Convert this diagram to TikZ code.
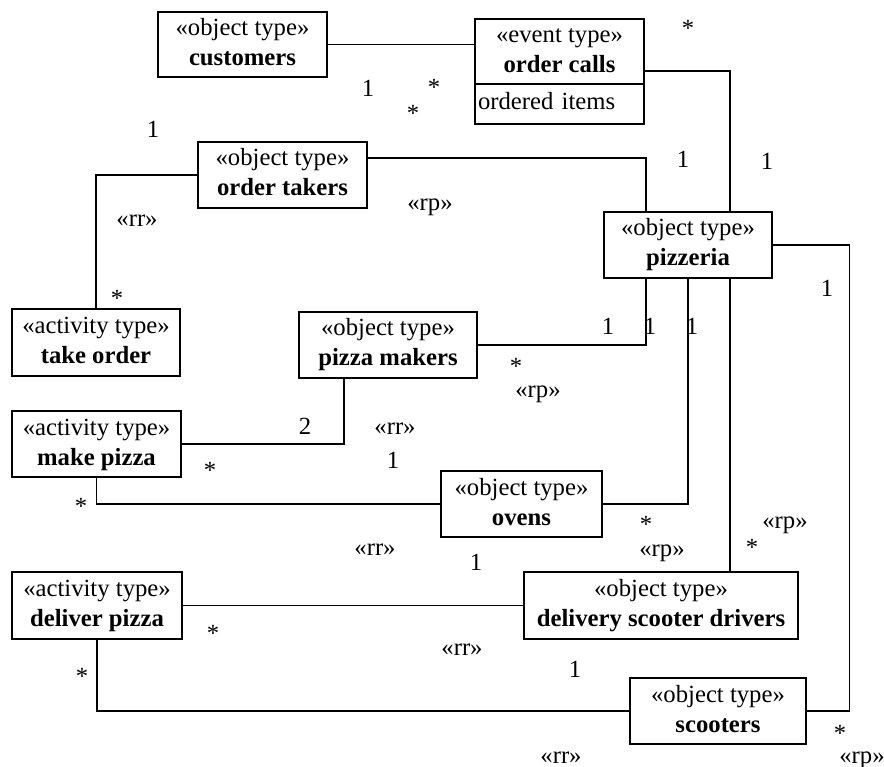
\documentclass[tikz,border=0pt]{standalone}
\usepackage{fontspec}
\setmainfont{Liberation Serif}
\begin{document}
\begin{tikzpicture}[
  x=1pt, y=-1pt,
  font=\fontsize{24.7}{30}\selectfont,
  typebox/.style={draw, line width=2.3pt, rectangle, align=center, inner sep=2pt},
  attrbox/.style={draw, line width=2.3pt, rectangle, align=left, inner xsep=3pt, inner ysep=0pt},
  conn/.style={line width=1.2pt},
  lab/.style={anchor=base, inner sep=0pt}
]
\useasboundingbox (0,0) rectangle (884,767);

% classifier boxes
\node[typebox, minimum width=169pt, minimum height=65pt] (customers) at (242.5,44.5)
  {\strut«object type»\\\textbf{customers}\strut};
\node[typebox, minimum width=169pt, minimum height=65pt] (ordercalls) at (559.5,51.5)
  {\strut«event type»\\\textbf{order calls}\strut};
\node[attrbox, text width=163pt, minimum height=40pt] (orderattr) at (559.5,104)
  {\strut ordered items};
\node[typebox, minimum width=169pt, minimum height=66pt] (ordertakers) at (282.5,175)
  {\strut«object type»\\\textbf{order takers}\strut};
\node[typebox, minimum width=168pt, minimum height=66pt] (pizzeria) at (688,245)
  {\strut«object type»\\\textbf{pizzeria}\strut};
\node[typebox, minimum width=168pt, minimum height=67pt] (takeorder) at (96,342.5)
  {\strut«activity type»\\\textbf{take order}\strut};
\node[typebox, minimum width=178pt, minimum height=66pt] (pizzamakers) at (388,345)
  {\strut«object type»\\\textbf{pizza makers}\strut};
\node[typebox, minimum width=169pt, minimum height=66pt] (makepizza) at (96.5,444)
  {\strut«activity type»\\\textbf{make pizza}\strut};
\node[typebox, minimum width=161pt, minimum height=66pt] (ovens) at (521.5,504)
  {\strut«object type»\\\textbf{ovens}\strut};
\node[typebox, minimum width=170pt, minimum height=67pt] (deliverpizza) at (97,605.5)
  {\strut«activity type»\\\textbf{deliver pizza}\strut};
\node[typebox, minimum width=274pt, minimum height=67pt] (drivers) at (661,605.5)
  {\strut«object type»\\\textbf{delivery scooter drivers}\strut};
\node[typebox, minimum width=176pt, minimum height=66pt] (scooters) at (718,711)
  {\strut«object type»\\\textbf{scooters}\strut};

% associations
\draw[conn] (customers.east) -- (customers.east -| ordercalls.west);
\draw[conn] ([yshift=-19.5pt]ordercalls.east) -| ([xshift=42pt]pizzeria.north);
\draw[conn] ([yshift=17pt]ordertakers.east) -| ([xshift=-42pt]pizzeria.north);
\draw[conn] (takeorder.north) |- (ordertakers.west);
\draw[conn] (pizzeria.east) -| ([xshift=42pt]scooters.east) -- (scooters.east);
\draw[conn] ([xshift=-42pt]pizzeria.south) |- (pizzamakers.east);
\draw[conn] (pizzeria.south) |- (ovens.east);
\coordinate (pd) at ([xshift=42pt]pizzeria.south);
\draw[conn] (pd) -- (pd |- drivers.north);
\draw[conn] ([xshift=-44pt]pizzamakers.south) |- (makepizza.east);
\draw[conn] (makepizza.south) |- (ovens.west);
\draw[conn] (deliverpizza.east) -- (drivers.west);
\draw[conn] (deliverpizza.south) |- (scooters.west);

% multiplicities and stereotypes
\node[lab] (m1) at (368,97) {1};
\node[lab] (m2) at (434,96) {*};
\node[lab] (m3) at (413,122) {*};
\node[lab] (m4) at (688,37) {*};
\node[lab] (m5) at (153,138) {1};
\node[lab] (m6) at (683,168) {1};
\node[lab] (m7) at (767,170) {1};
\node[lab] (s1) at (137,227) {«rr»};
\node[lab] (s2) at (430,211) {«rp»};
\node[lab] (m8) at (117,307) {*};
\node[lab] (m9) at (827,297) {1};
\node[lab] (m10) at (608,335) {1};
\node[lab] (m11) at (650,335) {1};
\node[lab] (m12) at (692,335) {1};
\node[lab] (m13) at (516,374) {*};
\node[lab] (s3) at (538,397) {«rp»};
\node[lab] (m14) at (305,435) {2};
\node[lab] (s4) at (395,435) {«rr»};
\node[lab] (m15) at (393,468) {1};
\node[lab] (m16) at (210,478) {*};
\node[lab] (m17) at (81,514) {*};
\node[lab] (m18) at (646,532) {*};
\node[lab] (s5) at (785,528) {«rp»};
\node[lab] (s6) at (375,555) {«rr»};
\node[lab] (s7) at (662,556) {«rp»};
\node[lab] (m19) at (752,555) {*};
\node[lab] (m20) at (476,570) {1};
\node[lab] (m21) at (213,641) {*};
\node[lab] (s8) at (462,655) {«rr»};
\node[lab] (m22) at (575,677) {1};
\node[lab] (m23) at (82,684) {*};
\node[lab] (m24) at (840,741) {*};
\node[lab] (s9) at (561,763) {«rr»};
\node[lab] (s10) at (862,763) {«rp»};
\end{tikzpicture}
\end{document}
